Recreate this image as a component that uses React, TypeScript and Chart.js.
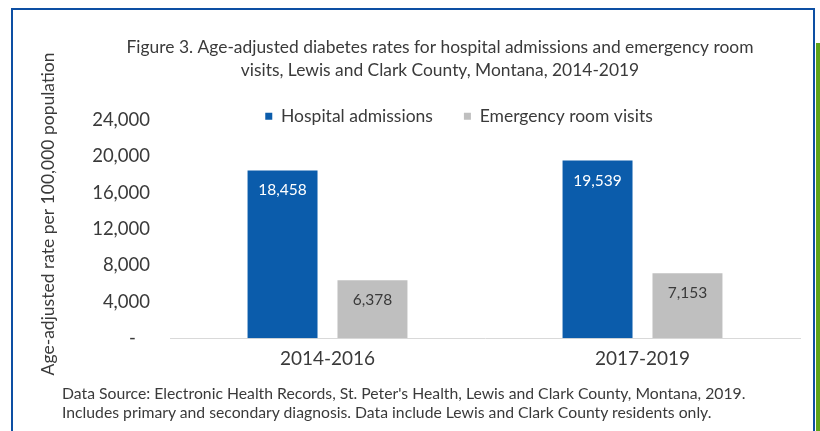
import React, { useEffect, useRef } from 'react';
import { Chart, registerables } from 'chart.js';

Chart.register(...registerables);

const categories = ['2014-2016', '2017-2019'];
const seriesNames = ['Hospital admissions', 'Emergency room visits'];
const hospitalAdmissions = [18458, 19539];
const erVisits = [6378, 7153];
const yTicks = [0, 4000, 8000, 12000, 16000, 20000, 24000];
const titleLines = [
  'Figure 3. Age-adjusted diabetes rates for hospital admissions and emergency room',
  'visits, Lewis and Clark County, Montana, 2014-2019',
];
const yTitle = 'Age-adjusted rate per 100,000 population';
const footerLines = [
  "Data Source: Electronic Health Records, St. Peter's Health, Lewis and Clark County, Montana, 2019.",
  'Includes primary and secondary diagnosis. Data include Lewis and Clark County residents only.',
];

const FONT = "Lato, 'Open Sans', sans-serif";
const TEXT = '#3a3a3a';
const BLUE = '#0b5cab';
const GRAY = '#bfbfbf';

const fmt = (v: number) => v.toLocaleString('en-US');

const shiftPlugin = {
  id: 'shiftBoxes',
  afterLayout(chart: any) {
    const t = chart.titleBlock;
    if (t) {
      t.left += 40;
      t.right += 40;
    }
    const l = chart.legend;
    if (l) {
      l.left += 59;
      l.right += 59;
      l.top += 15;
      l.bottom += 15;
    }
  },
};

const yTitlePlugin = {
  id: 'yTitleText',
  afterDraw(chart: any) {
    const ctx = chart.ctx;
    ctx.save();
    ctx.translate(48, 214);
    ctx.rotate(-Math.PI / 2);
    ctx.font = `17.5px ${FONT}`;
    ctx.fillStyle = TEXT;
    ctx.textAlign = 'center';
    ctx.textBaseline = 'middle';
    ctx.fillText(yTitle, 0, 0);
    ctx.restore();
  },
};

const valueLabels = {
  id: 'valueLabels',
  afterDatasetsDraw(chart: any) {
    const ctx = chart.ctx;
    ctx.save();
    ctx.font = `15.5px ${FONT}`;
    ctx.textAlign = 'center';
    ctx.textBaseline = 'middle';
    chart.data.datasets.forEach((ds: any, di: number) => {
      const meta = chart.getDatasetMeta(di);
      meta.data.forEach((el: any, i: number) => {
        ctx.fillStyle = di === 0 ? '#ffffff' : TEXT;
        ctx.fillText(fmt(ds.data[i]), el.x, el.y + 20);
      });
    });
    ctx.restore();
  },
};

export default function App() {
  const ref = useRef<HTMLCanvasElement | null>(null);

  useEffect(() => {
    if (!ref.current) return;
    const chart = new Chart(ref.current, {
      type: 'bar',
      data: {
        labels: categories,
        datasets: [
          {
            label: seriesNames[0],
            data: hospitalAdmissions,
            backgroundColor: BLUE,
            categoryPercentage: 0.571,
            barPercentage: 0.778,
          },
          {
            label: seriesNames[1],
            data: erVisits,
            backgroundColor: GRAY,
            categoryPercentage: 0.571,
            barPercentage: 0.778,
          },
        ],
      },
      options: {
        responsive: false,
        animation: false,
        devicePixelRatio: 1,
        layout: { padding: { top: 0, left: 0, right: 20, bottom: 51 } },
        plugins: {
          tooltip: { enabled: false },
          title: {
            display: true,
            text: titleLines,
            color: TEXT,
            font: { family: FONT, size: 17.4, weight: 'normal', lineHeight: 23 / 17.4 },
            padding: { top: 35.5, bottom: -20 },
          },
          legend: {
            display: true,
            position: 'top',
            labels: {
              boxWidth: 7,
              boxHeight: 7,
              padding: 31,
              color: TEXT,
              font: { family: FONT, size: 17.5 },
            },
          },
        },
        scales: {
          x: {
            grid: { display: false, drawTicks: false },
            border: { display: true, color: '#d9d9d9', width: 1 },
            ticks: {
              color: TEXT,
              padding: 9.5,
              font: { family: FONT, size: 19 },
            },
          },
          y: {
            min: 0,
            max: 24000,
            grid: { display: false, drawTicks: false },
            border: { display: false },
            afterFit(scale: any) {
              scale.width = 170;
            },
            afterBuildTicks(scale: any) {
              scale.ticks = yTicks.map((v) => ({ value: v }));
            },
            ticks: {
              color: TEXT,
              padding: 20,
              font: { family: FONT, size: 18.5 },
              callback: (v: any) => (Number(v) === 0 ? '-   ' : fmt(Number(v))),
            },
            title: { display: false },
          },
        },
      },
      plugins: [shiftPlugin, valueLabels, yTitlePlugin],
    });
    return () => chart.destroy();
  }, []);

  return (
    <div style={{ position: 'absolute', left: 0, top: 0, width: 820, height: 431, overflow: 'hidden', background: '#fff' }}>
      <div
        style={{
          position: 'absolute',
          left: 11,
          top: 8,
          width: 804,
          height: 423,
          boxSizing: 'border-box',
          borderTop: '2.5px solid #0d4fa3',
          borderLeft: '2.5px solid #0d4fa3',
          borderRight: '2.5px solid #0d4fa3',
        }}
      />
      <div style={{ position: 'absolute', left: 816, top: 43, width: 4, height: 388, background: '#5ea31a' }} />
      <canvas ref={ref} width={820} height={431} style={{ position: 'absolute', left: 0, top: 0 }} />
      <div
        style={{
          position: 'absolute',
          left: 62,
          top: 382.5,
          fontFamily: FONT,
          fontSize: 15.75,
          lineHeight: '19px',
          color: TEXT,
          whiteSpace: 'nowrap',
        }}
      >
        {footerLines.map((l, i) => (
          <div key={i}>{l}</div>
        ))}
      </div>
    </div>
  );
}
